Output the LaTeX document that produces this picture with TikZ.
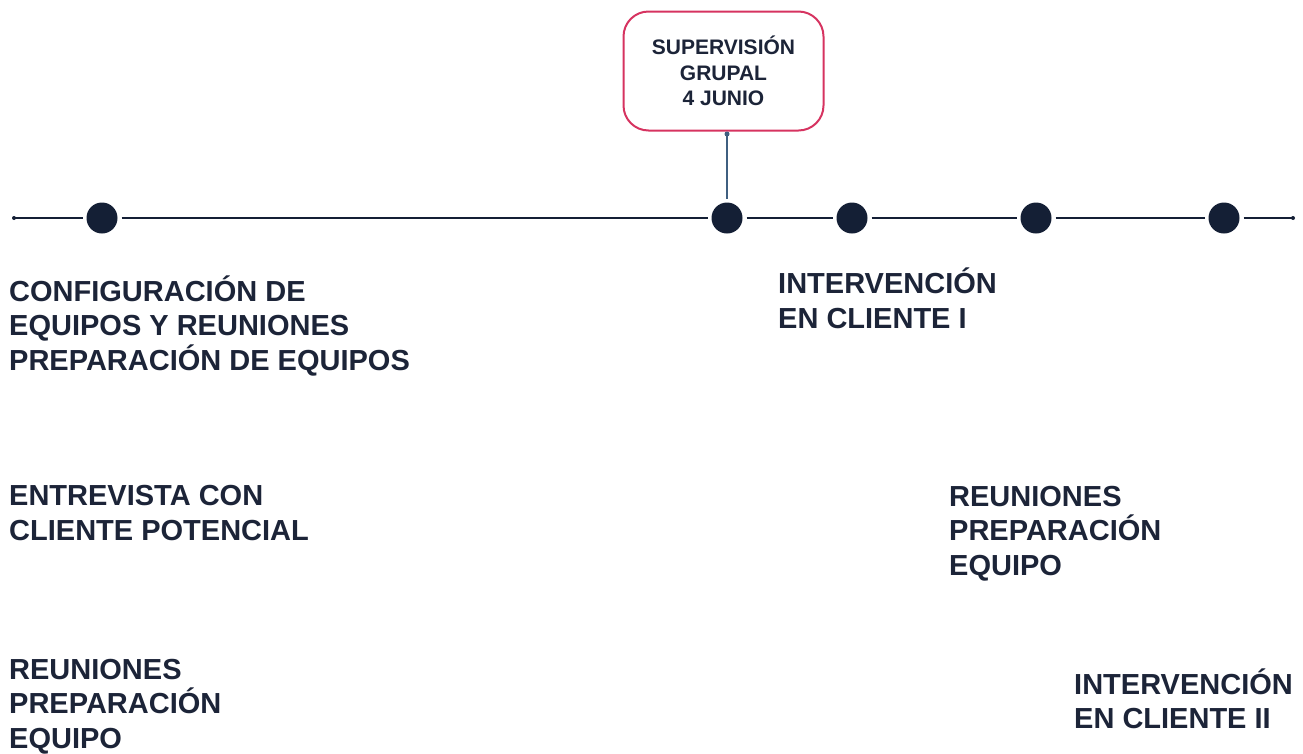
\documentclass[tikz,border=0pt]{standalone}
\usepackage{fontspec}
\setmainfont{Liberation Sans}
\definecolor{navy}{HTML}{141F35}
\definecolor{txt}{HTML}{1C2438}
\definecolor{crimson}{HTML}{D63360}
\definecolor{conn}{HTML}{3F5F80}
\begin{document}
\begin{tikzpicture}[x=1pt,y=-1pt,
  dot/.style={circle,fill=navy,minimum size=31pt,inner sep=0pt,outer sep=4pt},
  enddot/.style={circle,fill=navy,minimum size=4pt,inner sep=0pt},
  tline/.style={draw=navy,line width=1.4pt},
  label/.style={anchor=base west,align=left,inner sep=0pt,text=txt,font=\bfseries\fontsize{29}{34.5}\selectfont},
  supbox/.style={draw=crimson,line width=2pt,rounded corners=25pt,minimum width=200pt,minimum height=119pt,align=center,text=txt,font=\bfseries\fontsize{21}{25.5}\selectfont},
  connector/.style={draw=conn,line width=1.4pt}]
\useasboundingbox (0,0) rectangle (1303,753);
% timeline
\node[enddot] (e0) at (14,218) {};
\node[dot] (d1) at (102,218) {};
\node[dot] (d2) at (727,218) {};
\node[dot] (d3) at (852,218) {};
\node[dot] (d4) at (1036,218) {};
\node[dot] (d5) at (1224,218) {};
\node[enddot] (e1) at (1293,218) {};
\draw[tline] (e0.center) -- (d1);
\draw[tline] (d1) -- (d2);
\draw[tline] (d2) -- (d3);
\draw[tline] (d3) -- (d4);
\draw[tline] (d4) -- (d5);
\draw[tline] (d5) -- (e1.center);
% supervision box
\node[supbox] (sup) at (723.5,71) {SUPERVISIÓN\\GRUPAL\\4 JUNIO};
\coordinate (cs) at (727,134);
\fill[conn] (cs) circle (2.5pt);
\draw[connector] (cs) -- (d2);
% labels
\node[label] (l1) at (9,370) {CONFIGURACIÓN DE\\EQUIPOS Y REUNIONES\\PREPARACIÓN DE EQUIPOS};
\node[label] (l2) at (778,328) {INTERVENCIÓN\\EN CLIENTE I};
\node[label] (l3) at (9,540) {ENTREVISTA CON\\CLIENTE POTENCIAL};
\node[label] (l4) at (949,575) {REUNIONES\\PREPARACIÓN\\EQUIPO};
\node[label] (l5) at (9,748) {REUNIONES\\PREPARACIÓN\\EQUIPO};
\node[label] (l6) at (1074,728.5) {INTERVENCIÓN\\EN CLIENTE II};
\end{tikzpicture}
\end{document}
